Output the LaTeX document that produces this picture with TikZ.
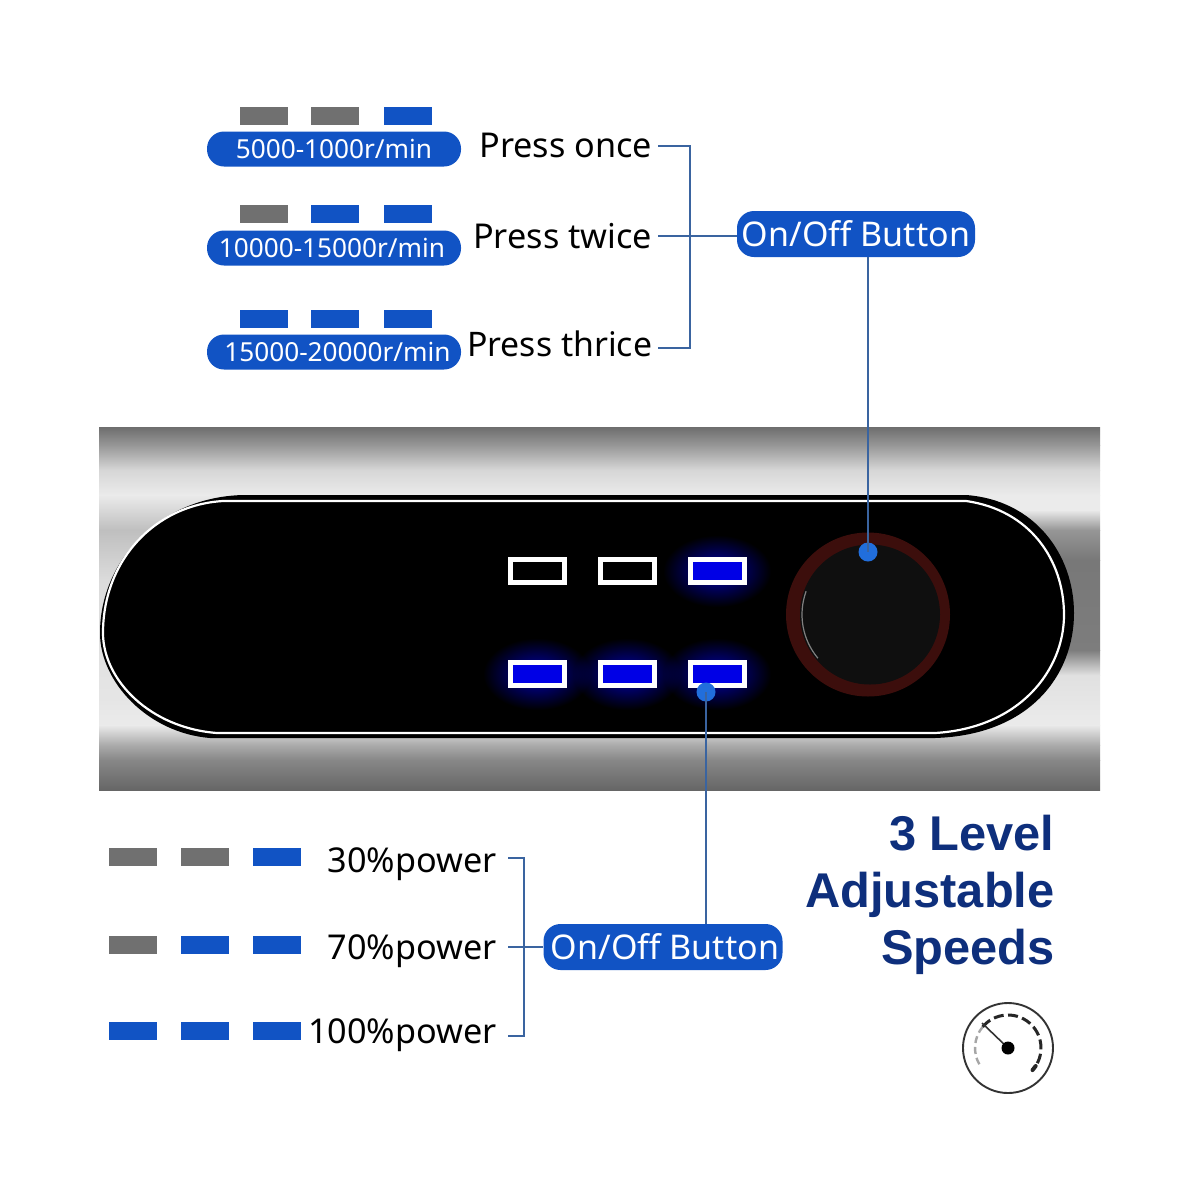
\documentclass[tikz,border=0pt]{standalone}
\usepackage{fontspec}
\setmainfont{Noto Sans}
\newfontfamily\headfont{Liberation Sans}
\usetikzlibrary{calc,fadings}
\definecolor{ledblue}{RGB}{17,83,196}
\definecolor{ledgrey}{RGB}{112,112,112}
\definecolor{linkblue}{RGB}{58,100,160}
\definecolor{dotblue}{RGB}{33,110,220}
\definecolor{navy}{RGB}{14,47,124}
\definecolor{pure}{RGB}{0,0,230}
\definecolor{ringred}{RGB}{60,14,12}
\tikzfading[name=softglow,inner color=transparent!25,outer color=transparent!100]
\tikzset{
 x=0.5pt,y=-0.5pt,
 bar/.style={minimum width=24pt,minimum height=9pt,inner sep=0pt,draw=none},
 on/.style={bar,fill=ledblue},
 off/.style={bar,fill=ledgrey},
 pill/.style={rounded corners=8.5pt,fill=ledblue,text=white,minimum width=127pt,minimum height=17.5pt,inner sep=0pt,font=\fontsize{13.1}{15}\selectfont},
 btn/.style={rounded corners=8.5pt,fill=ledblue,text=white,inner sep=0pt,minimum height=23pt,font=\fontsize{17}{20}\selectfont},
 lab/.style={text=black,inner sep=0pt,anchor=east,font=\fontsize{17.1}{20}\selectfont},
 link/.style={draw=linkblue,line width=0.8pt},
 dot/.style={circle,fill=dotblue,minimum size=9.5pt,inner sep=0pt},
 lamp/.style={draw=white,line width=2.5pt,minimum width=27pt,minimum height=11.5pt,inner sep=0pt},
 head/.style={text=navy,inner sep=0pt,anchor=base east,font=\headfont\bfseries\fontsize{24.4}{28}\selectfont},
}
\begin{document}
\begin{tikzpicture}
\useasboundingbox (0,0) rectangle (1200,1200);
\fill[white] (0,0) rectangle (1200,1200);
% metal body, left half
\foreach \ya/\pa/\yb/\pb in {427/57/445/41,445/41/470/16,470/16/495/8,495/8/530/25,530/25/580/14,580/14/700/10,700/10/725/8,725/8/745/33,745/33/760/47,760/47/790/60}{
 \shade[top color=black!\pa,bottom color=black!\pb] (99,\ya) rectangle (600,\yb);
}
% metal body, right half
\foreach \ya/\pa/\yb/\pb in {427/57/445/41,445/41/470/16,470/16/495/8,495/8/510/8,510/8/530/41,530/41/560/53,560/53/650/51,650/51/675/12,675/12/725/8,725/8/745/33,745/33/760/47,760/47/790/60}{
 \shade[top color=black!\pa,bottom color=black!\pb] (600,\ya) rectangle (1100,\yb);
}
% panel
\fill[black] (243,495) -- (966,495) .. controls (1035,500) and (1074,555) .. (1074,613) .. controls (1074,675) and (1030,735) .. (935,738) -- (210,738) .. controls (148,733) and (100,682) .. (100,633) .. controls (100,560) and (160,497) .. (243,495) -- cycle;
\draw[white,line width=1.1pt] (223,501) -- (966,501) .. controls (1030,510) and (1064,560) .. (1064,615) .. controls (1064,670) and (1020,728) .. (935,733) -- (217,733) .. controls (150,728) and (103,680) .. (103,633) .. controls (103,560) and (155,505) .. (223,501) -- cycle;
% glow
\foreach \cx/\cy in {717/571,537/674,627/674,717/674}{
 \fill[pure,path fading=softglow] (\cx-54,\cy-36) rectangle (\cx+54,\cy+36);
}
% lamps
\node[lamp,fill=black] (l1) at (537,571) {};
\node[lamp,fill=black] (l2) at (627,571) {};
\node[lamp,fill=pure] (l3) at (717,571) {};
\node[lamp,fill=pure] (l4) at (537,674) {};
\node[lamp,fill=pure] (l5) at (627,674) {};
\node[lamp,fill=pure] (l6) at (717,674) {};
% knob
\fill[ringred] (868,614.5) circle (82);
\fill[black!94] (870,614.5) circle (70);
\draw[black!50,line width=0.6pt] (870,614.5) ++(200:68) arc (200:140:68);
% dots
\node[dot] (d1) at (868,552) {};
\node[dot] (d2) at (706,692) {};
% speed bars top
\node[off] (a1) at (264,116) {};
\node[off] (a2) at (335,116) {};
\node[on] (a3) at (408,116) {};
\node[off] (b1) at (264,214) {};
\node[on] (b2) at (335,214) {};
\node[on] (b3) at (408,214) {};
\node[on] (c1) at (264,319) {};
\node[on] (c2) at (335,319) {};
\node[on] (c3) at (408,319) {};
\node[pill] (p1) at (334,149) {5000-1000r/min};
\node[pill] (p2) at (334,248) {10000-15000r/min\hspace*{2pt}};
\node[pill] (p3) at (334,352) {\hspace*{3.5pt}15000-20000r/min};
\node[lab] (t1) at (652.5,145) {Press once};
\node[lab] (t2) at (652.5,236) {Press twice};
\node[lab,font=\fontsize{16.9}{20}\selectfont] (t3) at (652.5,344) {Press thrice};
\node[btn,minimum width=119pt] (btop) at (856,234) {On/Off Button};
\coordinate (jt) at (690,236);
\draw[link] (658,146) -| (jt) |- (658,348);
\draw[link] (658,236) -- (btop.west |- 0,236);
\draw[link] (btop.south -| d1) -- (d1.center);
% bottom bars
\node[off] (e1) at (133,857) {};
\node[off] (e2) at (205,857) {};
\node[on] (e3) at (277,857) {};
\node[off] (f1) at (133,945) {};
\node[on] (f2) at (205,945) {};
\node[on] (f3) at (277,945) {};
\node[on] (g1) at (133,1031) {};
\node[on] (g2) at (205,1031) {};
\node[on] (g3) at (277,1031) {};
\node[lab] (u1) at (497,864) {30\%power};
\node[lab] (u2) at (497,951) {70\%power};
\node[lab] (u3) at (497,1035) {100\%power};
\node[btn,minimum width=119.5pt] (bbot) at (663,947) {\hspace*{2pt}On/Off Button};
\coordinate (jb) at (524,947);
\draw[link] (508,858) -| (jb) |- (508,1036);
\draw[link] (508,947) -- (bbot.west);
\draw[link] (bbot.north -| d2) -- (d2.center);
% heading
\node[head] (h1) at (1055,850) {3 Level};
\node[head] (h2) at (1055,907) {Adjustable};
\node[head] (h3) at (1055,964) {Speeds};
% gauge
\coordinate (gc) at (1008,1048);
\draw[black!80,line width=0.95pt] (gc) circle (45);
\draw[black!35,line width=1.2pt,dash pattern=on 3.5pt off 2pt] (gc) ++(220:33) arc (220:149:33);
\draw[black!85,line width=1.5pt,dash pattern=on 5pt off 2.2pt] (gc) ++(220:33) arc (220:395:33);
\draw[black!85,line width=2pt,line cap=round] (gc) ++(393:33) arc (393:402:33);
\draw[black!80,line width=0.8pt] (gc) -- ++(-26,-25);
\fill[black] (gc) circle (6.5);
\end{tikzpicture}
\end{document}
